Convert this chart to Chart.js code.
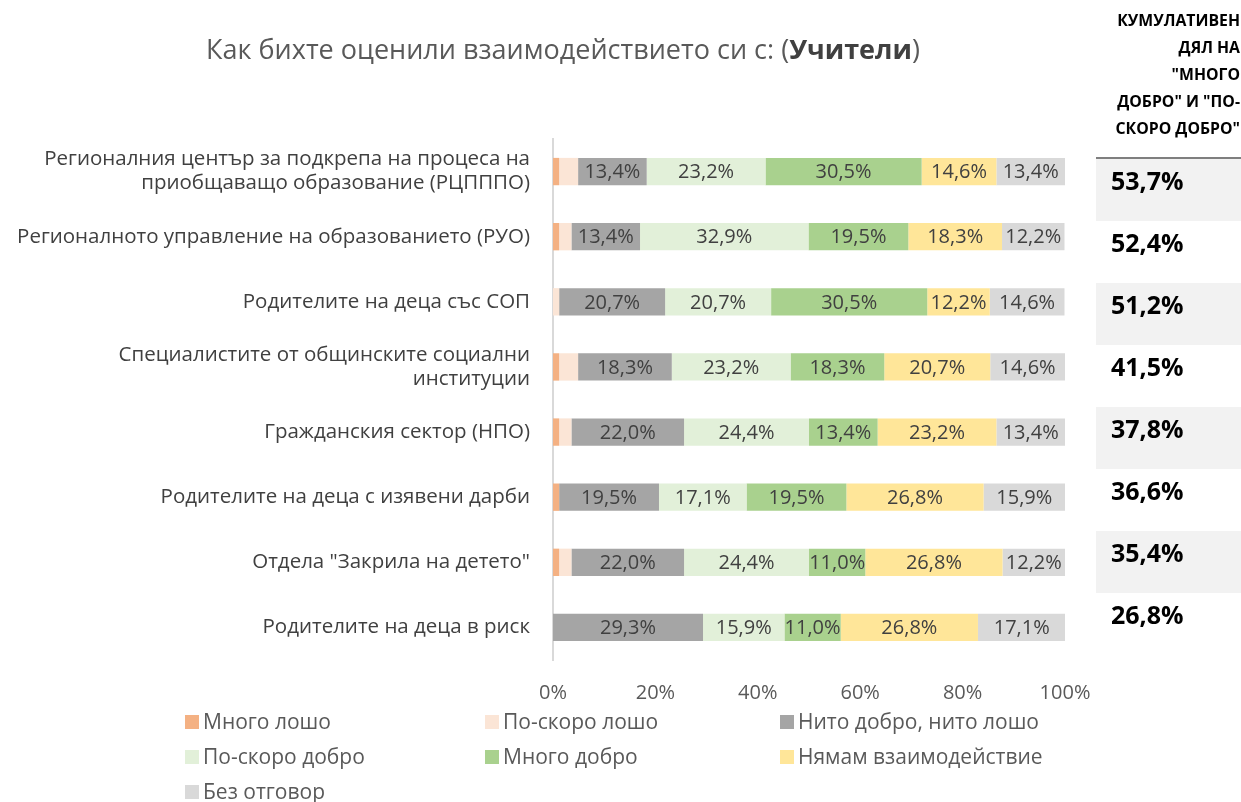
<!DOCTYPE html>
<html>
<head>
<meta charset="utf-8">
<script src="https://cdn.jsdelivr.net/npm/chart.js@4"></script>
<style>
body{margin:0;background:#fff;font-family:"Open Sans","Noto Sans",sans-serif;}
#wrap{position:relative;width:1241px;height:802px;overflow:hidden;}
#chart{position:absolute;left:0;top:0;}
#title{position:absolute;left:0;width:1126px;top:30px;text-align:center;font-size:27px;color:#595959;}
#head{position:absolute;right:1px;top:7px;text-align:right;font-weight:bold;font-size:15.8px;line-height:27px;color:#000;}
#cum{position:absolute;left:1096px;top:157px;width:145px;border-top:2px solid #7f7f7f;}
#cum div{height:62px;box-sizing:border-box;padding:4px 0 0 15px;font-weight:bold;font-size:25px;color:#000;}
#cum div:nth-child(odd){background:#f2f2f2;}
#legend{position:absolute;left:185px;top:707px;width:900px;display:grid;grid-template-columns:300px 295px 300px;row-gap:7px;font-size:21px;color:#595959;}
#legend span{display:inline-block;width:14px;height:14px;margin-right:4px;vertical-align:0px;}
</style>
</head>
<body>
<div id="wrap">
<canvas id="chart" width="1241" height="802"></canvas>
<div id="title">Как бихте оценили взаимодействието си с: (<b style="color:#404040">Учители</b>)</div>
<div id="head">КУМУЛАТИВЕН<br>ДЯЛ НА<br>"МНОГО<br>ДОБРО" И "ПО-<br>СКОРО ДОБРО"</div>
<div id="cum"></div>
<div id="legend"></div>
</div>
<script>
const categories = [
    ["Регионалния център за подкрепа на процеса на", "приобщаващо образование (РЦПППО)"],
    "Регионалното управление на образованието (РУО)",
    "Родителите на деца със СОП",
    ["Специалистите от общинските социални", "институции"],
    "Гражданския сектор (НПО)",
    "Родителите на деца с изявени дарби",
    "Отдела \"Закрила на детето\"",
    "Родителите на деца в риск"
];

const seriesNames = ["Много лошо", "По-скоро лошо", "Нито добро, нито лошо", "По-скоро добро", "Много добро", "Нямам взаимодействие", "Без отговор"];
const seriesColors = ["#f4b183", "#fbe5d6", "#a5a5a5", "#e2f0d9", "#a9d18e", "#ffe699", "#d9d9d9"];

const veryBad    = [1.2, 1.2, 0,    1.2, 1.2, 1.2, 1.2, 0];
const ratherBad  = [3.7, 2.4, 1.2,  3.7, 2.4, 0,   2.4, 0];
const neither    = [13.4, 13.4, 20.7, 18.3, 22.0, 19.5, 22.0, 29.3];
const ratherGood = [23.2, 32.9, 20.7, 23.2, 24.4, 17.1, 24.4, 15.9];
const veryGood   = [30.5, 19.5, 30.5, 18.3, 13.4, 19.5, 11.0, 11.0];
const noContact  = [14.6, 18.3, 12.2, 20.7, 23.2, 26.8, 26.8, 26.8];
const noAnswer   = [13.4, 12.2, 14.6, 14.6, 13.4, 15.9, 12.2, 17.1];

const cumulative = [53.7, 52.4, 51.2, 41.5, 37.8, 36.6, 35.4, 26.8];
const xTicks = [0, 20, 40, 60, 80, 100];

const allSeries = [veryBad, ratherBad, neither, ratherGood, veryGood, noContact, noAnswer];
const fmt = v => v.toFixed(1).replace(".", ",") + "%";
const FONT = "'Open Sans', 'Noto Sans', sans-serif";

// values inside bars
const barLabels = {
    id: "barLabels",
    afterDatasetsDraw(chart){
        const ctx = chart.ctx;
        ctx.save();
        ctx.font = "20px " + FONT;
        ctx.fillStyle = "#404040";
        ctx.textAlign = "center";
        ctx.textBaseline = "middle";
        chart.data.datasets.forEach((ds, i) => {
            chart.getDatasetMeta(i).data.forEach((bar, j) => {
                const v = ds.data[j];
                if(v < 10) return;
                ctx.fillText(fmt(v), (bar.x + bar.base)/2, bar.y + 1);
            });
        });
        ctx.restore();
    }
};

new Chart(document.getElementById("chart"), {
    type: "bar",
    data: {
        labels: categories,
        datasets: allSeries.map((d, i) => ({
            label: seriesNames[i],
            data: d,
            backgroundColor: seriesColors[i],
            borderWidth: 0,
            categoryPercentage: 1,
            barPercentage: 0.42
        }))
    },
    options: {
        indexAxis: "y",
        responsive: false,
        animation: false,
        layout: {padding: {left: 0, right: 176, top: 139, bottom: 92}},
        plugins: {legend: {display: false}, tooltip: {enabled: false}},
        scales: {
            x: {
                stacked: true, min: 0, max: 100,
                afterFit: s => { s.height = 50; },
                afterBuildTicks: s => { s.ticks = xTicks.map(v => ({value: v})); },
                grid: {display: false},
                border: {display: false},
                ticks: {color: "#595959", font: {size: 20, family: FONT}, padding: 13, callback: v => v + "%"}
            },
            y: {
                stacked: true,
                afterFit: s => { s.width = 553; },
                grid: {display: false},
                border: {display: true, color: "#d9d9d9", width: 2},
                ticks: {color: "#404040", font: {size: 20.5, family: FONT, lineHeight: 1.17}, padding: 15}
            }
        }
    },
    plugins: [barLabels]
});

document.getElementById("cum").innerHTML = cumulative.map(v => `<div>${fmt(v)}</div>`).join("");
document.getElementById("legend").innerHTML = seriesNames.map((n, i) =>
    `<div><span style="background:${seriesColors[i]}"></span>${n}</div>`).join("");
</script>
</body>
</html>
